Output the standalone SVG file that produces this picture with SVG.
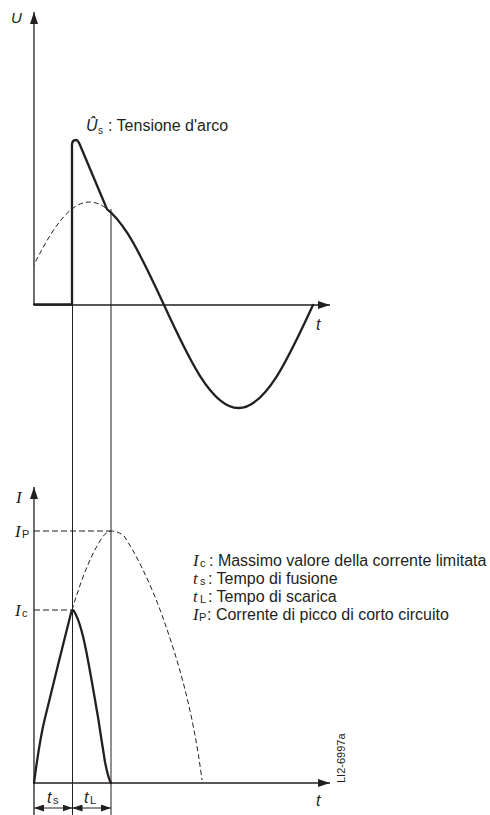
<svg xmlns="http://www.w3.org/2000/svg" width="490" height="815" viewBox="0 0 490 815">
<style>
.ax{stroke:#231f20;stroke-width:1.3;fill:none}
.thin{stroke:#231f20;stroke-width:1;fill:none}
.thick{stroke:#231f20;stroke-width:2.3;fill:none;stroke-linejoin:round;stroke-linecap:round}
.dash{stroke:#231f20;stroke-width:1;fill:none;stroke-dasharray:5 3}
.dashh{stroke:#231f20;stroke-width:1;fill:none;stroke-dasharray:6 3}
text{fill:#231f20;font-family:"Liberation Sans",Arial,sans-serif;font-size:16px}
.it{font-style:italic}
.ser{font-family:"Liberation Serif","Times New Roman",serif;font-style:italic;font-size:17px}
.sub{font-size:11px}
.code{font-size:11px}
</style>
<defs>
<marker id="ah" viewBox="0 0 12 8" refX="12" refY="4" markerWidth="12" markerHeight="8" markerUnits="userSpaceOnUse" orient="auto">
<path d="M0,0 L12,4 L0,8 Z" fill="#231f20"/>
</marker>
<marker id="dh" viewBox="0 0 10 7" refX="10" refY="3.5" markerWidth="10" markerHeight="7" markerUnits="userSpaceOnUse" orient="auto-start-reverse">
<path d="M0,0 L10,3.5 L0,7 Z" fill="#231f20"/>
</marker>
<clipPath id="cd"><rect x="34" y="150" width="72" height="160"/></clipPath>
<clipPath id="cs"><rect x="106" y="150" width="230" height="270"/></clipPath>
</defs>

<g id="axes">
<line class="ax" x1="34" y1="305" x2="34" y2="12" marker-end="url(#ah)"/>
<line class="ax" x1="34" y1="305" x2="330" y2="305" marker-end="url(#ah)"/>
<line class="ax" x1="34" y1="815" x2="34" y2="487" marker-end="url(#ah)"/>
<line class="ax" x1="34" y1="783" x2="330" y2="783" marker-end="url(#ah)"/>
</g>

<g id="guides">
<line class="thin" x1="72.5" y1="305" x2="72.5" y2="815"/>
<line class="thin" x1="111" y1="209" x2="111" y2="815"/>
<line class="dashh" x1="34" y1="531" x2="111" y2="531"/>
<line class="dashh" x1="34" y1="610" x2="72" y2="610"/>
</g>

<g id="voltage">
<path class="dash" clip-path="url(#cd)" d="M15,305 C39.3,252.2 62.5,202 89.5,202 C116.46,202 139.7,252.2 164,305"/>
<path class="thick" clip-path="url(#cs)" d="M89.5,202 C116.46,202 139.7,252.2 164,305 C188.3,357.8 211.5,408 238.5,408 C265.5,408 288.7,357.8 313,305"/>
<path class="thick" d="M34,304.5 H72 V145 Q72,140 76,140 Q78,140 80,145 L106.5,208"/>
</g>

<g id="current">
<path class="dash" d="M72,610 C78,590 88,560 100,541 Q105,532 111,531 Q118,531 124,536 C135,552 150,582 162,615 C178,660 193,710 202,780"/>
<path class="thick" d="M34,783 C37,760 40,738 45,718 C52,690 64,640 71,613 Q72.5,608 74.5,612 C78,618 83,635 86,650 C90,670 95,700 98,717 C100,730 103,750 105,762 C107,772 109,780 111,783"/>
</g>

<g id="dimensions">
<line class="thin" x1="34" y1="808" x2="72.5" y2="808" marker-start="url(#dh)" marker-end="url(#dh)"/>
<line class="thin" x1="72.5" y1="808" x2="111" y2="808" marker-start="url(#dh)" marker-end="url(#dh)"/>
</g>

<g id="labels">
<text class="it" x="11" y="23" style="font-size:15px">U</text>
<text class="it" x="316" y="330">t</text>
<text class="it" x="316" y="806">t</text>
<text class="ser" x="16" y="503">I</text>
<text x="15" y="537"><tspan class="ser">I</tspan><tspan class="sub" x="22" y="538">P</tspan></text>
<text x="15" y="616"><tspan class="ser">I</tspan><tspan class="sub" x="22" y="617">c</tspan></text>
<text x="47" y="803"><tspan class="it">t</tspan><tspan class="sub" x="53" y="804">s</tspan></text>
<text x="84" y="803"><tspan class="it">t</tspan><tspan class="sub" x="90" y="804">L</tspan></text>
<text x="86" y="131"><tspan class="it">Û</tspan><tspan font-size="10" x="98" y="134">s</tspan><tspan x="108" y="131">: Tensione d'arco</tspan></text>
<text x="193" y="566"><tspan class="ser">I</tspan><tspan class="sub" x="200" y="567">c</tspan><tspan x="209" y="566">: Massimo valore della corrente limitata</tspan></text>
<text x="193" y="584"><tspan class="ser">t</tspan><tspan class="sub" x="200" y="585">s</tspan><tspan x="208" y="584">: Tempo di fusione</tspan></text>
<text x="193" y="602"><tspan class="ser">t</tspan><tspan class="sub" x="200" y="603">L</tspan><tspan x="208" y="602">: Tempo di scarica</tspan></text>
<text x="193" y="620"><tspan class="ser">I</tspan><tspan class="sub" x="199" y="621">P</tspan><tspan x="207" y="620">: Corrente di picco di corto circuito</tspan></text>
<text class="code" transform="translate(345,783) rotate(-90)">LI2-6997a</text>
</g>
</svg>
